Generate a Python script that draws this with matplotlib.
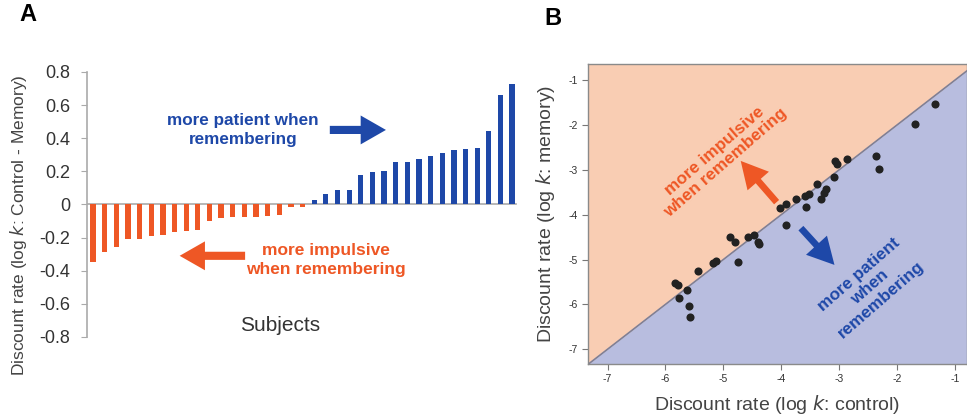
import numpy as np
import matplotlib
matplotlib.use("Agg")
import matplotlib.pyplot as plt

plt.rcParams['font.family'] = ['Liberation Sans', 'DejaVu Sans']

# panel A: per-subject difference (control - memory), sorted
diff_vals = [-0.347, -0.289, -0.259, -0.206, -0.206, -0.192, -0.182, -0.166,
             -0.158, -0.152, -0.097, -0.081, -0.077, -0.077, -0.075, -0.067,
             -0.065, -0.016, -0.014,
             0.024, 0.061, 0.085, 0.085, 0.178, 0.194, 0.202, 0.259, 0.259,
             0.273, 0.295, 0.311, 0.327, 0.333, 0.343, 0.444, 0.663, 0.727]
a_yticks = [0.8, 0.6, 0.4, 0.2, 0, -0.2, -0.4, -0.6, -0.8]
a_yticklabels = ['0.8', '0.6', '0.4', '0.2', '0', '-0.2', '-0.4', '-0.6', '-0.8']

# panel B: log k control vs log k memory
k_control = [-1.335, -1.69, -2.37, -2.31, -2.855, -3.07, -3.03, -3.09, -3.38,
             -3.235, -3.26, -3.32, -3.52, -3.59, -3.575, -3.75, -3.91, -4.02,
             -3.91, -4.47, -4.41, -4.38, -4.57, -4.88, -4.80, -4.755, -5.12,
             -5.18, -5.435, -5.83, -5.78, -5.77, -5.625, -5.59, -5.57]
k_memory = [-1.52, -1.98, -2.69, -2.98, -2.76, -2.80, -2.86, -3.15, -3.32,
            -3.43, -3.52, -3.66, -3.54, -3.58, -3.82, -3.66, -3.76, -3.86,
            -4.23, -4.45, -4.60, -4.65, -4.49, -4.50, -4.60, -5.06, -5.03,
            -5.08, -5.25, -5.53, -5.57, -5.85, -5.69, -6.03, -6.29]
b_ticks = [-7, -6, -5, -4, -3, -2, -1]

ORANGE = '#EE5725'
BLUE = '#1E48A8'
PEACH = '#F9CDB3'
LAVENDER = '#B8BDDF'
ARROW = 'simple,tail_width=0.45,head_width=1.6,head_length=1.4'
ARROW_B = 'simple,tail_width=0.4,head_width=1.7,head_length=1.6'

fig = plt.figure(figsize=(9.67, 4.16), dpi=100)

# ---------------- panel A ----------------
ax = fig.add_axes([0.09, 0.19, 0.448, 0.637])
idx = np.arange(len(diff_vals))
cols = [ORANGE if v < 0 else BLUE for v in diff_vals]
ax.bar(idx, diff_vals, width=0.45, color=cols, zorder=3)
ax.axhline(0, color='#aaaaaa', lw=1.2, xmax=0.99, zorder=2)
ax.set_xlim(-0.52, 36.7)
ax.set_ylim(-0.8, 0.8)
for s in ['top', 'right', 'bottom']:
    ax.spines[s].set_visible(False)
ax.spines['left'].set_color('#aaaaaa')
ax.spines['left'].set_linewidth(1.2)
ax.set_xticks([])
ax.set_yticks(a_yticks)
ax.set_yticklabels(a_yticklabels, fontsize=13, color='#333333')
ax.tick_params(axis='y', direction='out', length=4, color='#aaaaaa', pad=8)
ax.set_ylabel('Discount rate (log $\\it{k}$: Control - Memory)', fontsize=12.5,
              color='#444444')
ax.yaxis.set_label_coords(-0.135, 0.42)
ax.text(16.1, -0.73, 'Subjects', fontsize=15, color='#333333', ha='center', va='center')

ax.text(12.9, 0.45, 'more patient when\nremembering', fontsize=12.3, fontweight='bold',
        color=BLUE, ha='center', va='center', linespacing=1.3)
ax.annotate('', xy=(25.4, 0.45), xytext=(20.1, 0.45),
            arrowprops=dict(arrowstyle=ARROW, color=BLUE, lw=0, mutation_scale=13))
ax.text(20.0, -0.335, 'more impulsive\nwhen remembering', fontsize=12.5, fontweight='bold',
        color=ORANGE, ha='center', va='center', linespacing=1.3)
ax.annotate('', xy=(7.2, -0.31), xytext=(13.3, -0.31),
            arrowprops=dict(arrowstyle=ARROW, color=ORANGE, lw=0, mutation_scale=13))
fig.text(0.029, 0.964, 'A', fontsize=17, fontweight='bold', ha='center', va='center')

# ---------------- panel B ----------------
bx = fig.add_axes([0.608, 0.125, 0.392, 0.721])
xlo, xhi = -7.34, -0.79
ylo, yhi = -7.33, -0.64
xs = np.array([xlo, xhi])
bx.fill_between(xs, xs, yhi, color=PEACH, lw=0, zorder=0)
bx.fill_between(xs, ylo, xs, color=LAVENDER, lw=0, zorder=0)
bx.plot(xs, xs, color='#7f7f95', lw=1.2, zorder=1)
bx.scatter(k_control, k_memory, s=34, color='#222222', zorder=3, linewidths=0)
bx.set_xlim(xlo, xhi)
bx.set_ylim(ylo, yhi)
bx.set_xticks(b_ticks)
bx.set_yticks(b_ticks)
bx.set_xticklabels([str(t) for t in b_ticks])
bx.set_yticklabels([str(t) for t in b_ticks])
bx.tick_params(labelsize=7.5, labelcolor='#333333', direction='out', length=4,
               color='#777777', width=0.8)
for s in bx.spines.values():
    s.set_color('#8a8a8a')
    s.set_linewidth(1.0)
bx.set_xlabel('Discount rate (log $\\it{k}$: control)', fontsize=14, color='#444444', labelpad=6)
bx.set_ylabel('Discount rate (log $\\it{k}$: memory)', fontsize=14, color='#444444', labelpad=8)

bx.text(-5.06, -2.71, 'more impulsive\nwhen remembering', fontsize=12.3, fontweight='bold',
        color=ORANGE, ha='center', va='center', rotation=41, rotation_mode='anchor',
        linespacing=1.15)
bx.annotate('', xy=(-4.70, -2.80), xytext=(-4.08, -3.72),
            arrowprops=dict(arrowstyle=ARROW_B, color=ORANGE, lw=0, mutation_scale=12,
                            shrinkA=0, shrinkB=0))
bx.text(-2.47, -5.61, 'more patient\nwhen\nremembering', fontsize=12.3, fontweight='bold',
        color=BLUE, ha='center', va='center', rotation=41, rotation_mode='anchor',
        linespacing=1.15)
bx.annotate('', xy=(-3.08, -5.12), xytext=(-3.66, -4.30),
            arrowprops=dict(arrowstyle=ARROW_B, color=BLUE, lw=0, mutation_scale=12,
                            shrinkA=0, shrinkB=0))
fig.text(0.572, 0.955, 'B', fontsize=17, fontweight='bold', ha='center', va='center')

fig.savefig('out.png', dpi=100)
